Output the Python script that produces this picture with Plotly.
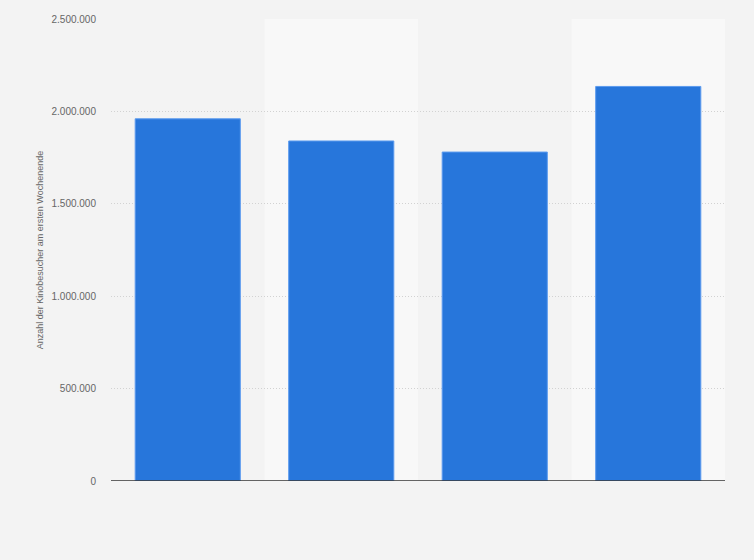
import plotly.graph_objects as go

# values
kategorien = ["Film 1", "Film 2", "Film 3", "Film 4"]
besucher = [1960000, 1840000, 1780000, 2135000]
y_ticks = [0, 500000, 1000000, 1500000, 2000000, 2500000]

fig = go.Figure()

fig.add_trace(go.Bar(
    x=kategorien,
    y=besucher,
    marker=dict(color="#2776db", line=dict(color="#5c9bef", width=1)),
    hoverinfo="y",
))

# lighter background band behind every second category
for i in [1, 3]:
    fig.add_shape(type="rect", xref="x", yref="paper",
                  x0=i - 0.5, x1=i + 0.5, y0=0, y1=1,
                  fillcolor="#f8f8f8", line_width=0, layer="below")

fig.update_layout(
    width=754, height=560,
    margin=dict(l=111, r=29, t=19, b=79),
    paper_bgcolor="#f3f3f3",
    plot_bgcolor="#f3f3f3",
    separators=",.",
    bargap=0.315,
    showlegend=False,
    font=dict(family="Liberation Sans, Arial, sans-serif", size=10, color="#666666"),
)

fig.update_xaxes(showticklabels=False, showgrid=False, ticks="", zeroline=False)
fig.update_yaxes(
    range=[0, 2500000],
    tickvals=y_ticks,
    tickformat=",d",
    showgrid=True, gridcolor="#d2d2d2", griddash="1px,2px", gridwidth=1,
    zeroline=False,
    showline=False,
    ticks="", ticklabelstandoff=14,
    title=dict(text="Anzahl der Kinobesucher am ersten Wochenende",
               font=dict(size=9, color="#666666"), standoff=6),
)

# baseline at zero
fig.add_shape(type="line", xref="paper", yref="y", x0=0, x1=1, y0=0, y1=0,
              line=dict(color="#333333", width=1.5))

# drop the browser's default page margin so the figure sits at 0,0
fig.write_html("out.html", config={"displayModeBar": False},
               post_script="document.body.style.margin='0';")
